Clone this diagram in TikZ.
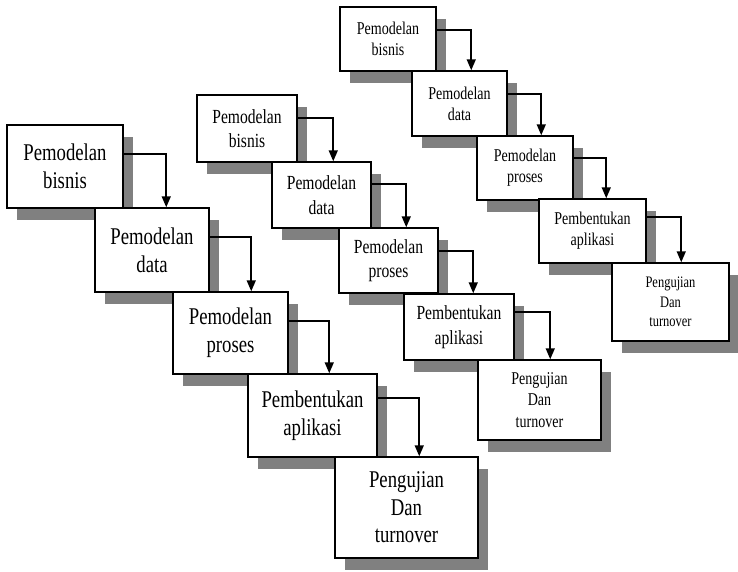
\documentclass[tikz,border=0pt]{standalone}
\usepackage{fontspec}
\usetikzlibrary{calc,shadows,arrows.meta}
\newfontfamily\stepfont[FakeStretch=0.78]{Liberation Serif}
\begin{document}
\begin{tikzpicture}[x=1pt,y=-1pt,
  stage/.style={draw=black, fill=white, line width=1.5pt, align=center,
    inner sep=0pt, font=\stepfont,
    general shadow={fill=black!50, shadow xshift=10pt, shadow yshift=-12pt}},
  big/.style={stage, font=\stepfont\fontsize{24}{28}\selectfont},
  mid/.style={stage, font=\stepfont\fontsize{20}{24.4}\selectfont},
  small/.style={stage, font=\stepfont\fontsize{18}{21}\selectfont},
  tiny/.style={stage, font=\stepfont\fontsize{16}{19.5}\selectfont},
  flow/.style={line width=1.6pt, -{Triangle[length=11pt,width=9pt]}}]
\useasboundingbox (0,0) rectangle (738,571);

% left cascade
\node[big, minimum width=116, minimum height=83] (L1) at (65,166.5) {Pemodelan\\bisnis};
\node[big, minimum width=114, minimum height=84] (L2) at (152,250) {Pemodelan\\data};
\node[big, minimum width=115, minimum height=82] (L3) at (230.5,333) {Pemodelan\\proses};
\node[big, minimum width=129, minimum height=83] (L4) at (312.5,415.5) {Pembentukan\\aplikasi};
\node[big, minimum width=143, minimum height=101, font=\stepfont\fontsize{24}{27.5}\selectfont] (L5) at (406.5,507.5) {Pengujian\\Dan\\turnover};

% middle cascade
\node[mid, minimum width=100, minimum height=67] (M1) at (247,128.5) {Pemodelan\\bisnis};
\node[mid, minimum width=99, minimum height=66] (M2) at (321.5,195) {Pemodelan\\data};
\node[mid, minimum width=99, minimum height=65] (M3) at (388.5,260.5) {Pemodelan\\proses};
\node[mid, minimum width=110, minimum height=66] (M4) at (459,327) {Pembentukan\\aplikasi};
\node[small, minimum width=123, minimum height=80, font=\stepfont\fontsize{18}{21.7}\selectfont] (M5) at (539.5,400) {Pengujian\\Dan\\turnover};

% right cascade
\node[small, minimum width=96, minimum height=64] (R1) at (388,39) {Pemodelan\\bisnis};
\node[small, minimum width=95, minimum height=65] (R2) at (459.5,103.5) {Pemodelan\\data};
\node[small, minimum width=96, minimum height=64] (R3) at (525,168) {Pemodelan\\proses};
\node[small, minimum width=107, minimum height=64] (R4) at (592.5,231) {Pembentukan\\aplikasi};
\node[tiny, minimum width=117, minimum height=78] (R5) at (670.5,302) {Pengujian\\Dan\\turnover};

% connectors
\draw[flow] ($(L1.north east)+(0,30)$) -| ($(L2.north west)+(72,0)$);
\draw[flow] ($(L2.north east)+(0,30)$) -| ($(L3.north west)+(79,0)$);
\draw[flow] ($(L3.north east)+(0,30)$) -| ($(L4.north west)+(82,0)$);
\draw[flow] ($(L4.north east)+(0,25)$) -| ($(L5.north west)+(85,0)$);

\draw[flow] ($(M1.north east)+(0,24)$) -| ($(M2.north west)+(62,0)$);
\draw[flow] ($(M2.north east)+(0,23)$) -| ($(M3.north west)+(68,0)$);
\draw[flow] ($(M3.north east)+(0,24)$) -| ($(M4.north west)+(70,0)$);
\draw[flow] ($(M4.north east)+(0,19)$) -| ($(M5.north west)+(73,0)$);

\draw[flow] ($(R1.north east)+(0,24)$) -| ($(R2.north west)+(60,0)$);
\draw[flow] ($(R2.north east)+(0,24)$) -| ($(R3.north west)+(65,0)$);
\draw[flow] ($(R3.north east)+(0,23)$) -| ($(R4.north west)+(68,0)$);
\draw[flow] ($(R4.north east)+(0,19)$) -| ($(R5.north west)+(70,0)$);
\end{tikzpicture}
\end{document}
